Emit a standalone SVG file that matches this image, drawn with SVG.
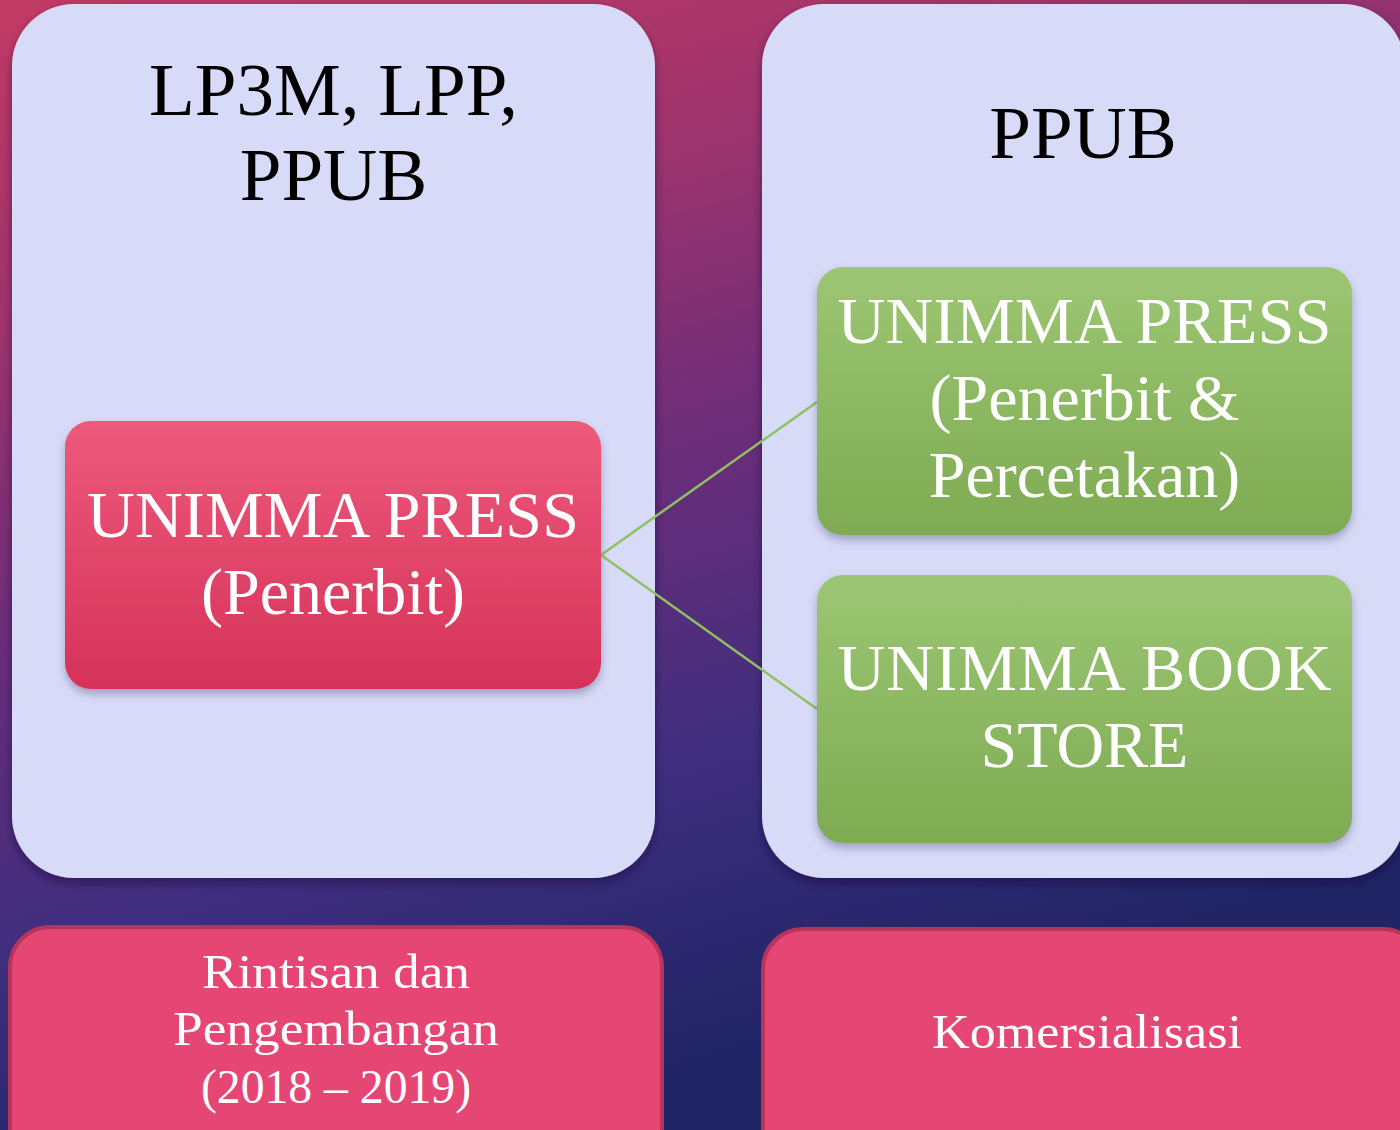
<svg xmlns="http://www.w3.org/2000/svg" width="1400" height="1130" viewBox="0 0 1400 1130">
<defs>
<linearGradient id="bg" x1="0" y1="0" x2="0.35" y2="1">
<stop offset="0" stop-color="#c23a64"/>
<stop offset="0.25" stop-color="#a0346c"/>
<stop offset="0.5" stop-color="#6c2d79"/>
<stop offset="0.75" stop-color="#3f2e7e"/>
<stop offset="1" stop-color="#1f2465"/>
</linearGradient>
<linearGradient id="red" x1="0" y1="0" x2="0" y2="1">
<stop offset="0" stop-color="#ed5a7b"/>
<stop offset="1" stop-color="#d63259"/>
</linearGradient>
<linearGradient id="green" x1="0" y1="0" x2="0" y2="1">
<stop offset="0" stop-color="#9cc673"/>
<stop offset="1" stop-color="#7eab52"/>
</linearGradient>
<filter id="sh" x="-10%" y="-10%" width="120%" height="125%">
<feDropShadow dx="0" dy="5" stdDeviation="5" flood-color="#1a1030" flood-opacity="0.45"/>
</filter>
<filter id="nsh" x="-10%" y="-10%" width="120%" height="130%">
<feDropShadow dx="0" dy="5" stdDeviation="4" flood-color="#5a5a80" flood-opacity="0.45"/>
</filter>
</defs>
<style>
.big{fill:#d7dbf7}
.hdr{font-family:"Liberation Serif","Times New Roman",serif;font-size:75px;fill:#000;text-anchor:middle}
.nt{font-family:"Liberation Serif","Times New Roman",serif;font-size:66px;fill:#fff;text-anchor:middle}
.bt{font-family:"Liberation Serif","Times New Roman",serif;font-size:48px;fill:#fff;text-anchor:middle}
.bot{fill:#e64673;stroke:#b8345c;stroke-width:4}
.conn{stroke:#8fc063;stroke-width:2.5;fill:none}
</style>
<rect x="0" y="0" width="1400" height="1130" fill="url(#bg)"/>

<g id="left-panel">
<rect class="big" x="12" y="4" width="643" height="874" rx="62" filter="url(#sh)"/>
<text class="hdr" x="333.5" y="115">LP3M, LPP,</text>
<text class="hdr" x="333.5" y="200">PPUB</text>
</g>

<g id="right-panel">
<rect class="big" x="762" y="4" width="643" height="874" rx="62" filter="url(#sh)"/>
<text class="hdr" x="1083" y="158">PPUB</text>
</g>

<g id="connectors">
<line class="conn" x1="601" y1="555" x2="817" y2="402"/>
<line class="conn" x1="601" y1="555" x2="817" y2="709"/>
</g>

<g id="node-unimma-press">
<rect x="65" y="421" width="536" height="268" rx="26" fill="url(#red)" filter="url(#nsh)"/>
<text class="nt" x="333" y="537" textLength="492">UNIMMA PRESS</text>
<text class="nt" x="333" y="614">(Penerbit)</text>
</g>

<g id="node-unimma-press-percetakan">
<rect x="817" y="267" width="535" height="268" rx="26" fill="url(#green)" filter="url(#nsh)"/>
<text class="nt" x="1084.5" y="343" textLength="494">UNIMMA PRESS</text>
<text class="nt" x="1084.5" y="420">(Penerbit &amp;</text>
<text class="nt" x="1084.5" y="497">Percetakan)</text>
</g>

<g id="node-unimma-book-store">
<rect x="817" y="575" width="535" height="268" rx="26" fill="url(#green)" filter="url(#nsh)"/>
<text class="nt" x="1084.5" y="690" textLength="494">UNIMMA BOOK</text>
<text class="nt" x="1084.5" y="767">STORE</text>
</g>

<g id="node-rintisan">
<rect class="bot" x="10" y="927" width="652" height="240" rx="40"/>
<text class="bt" x="336" y="988" textLength="268" lengthAdjust="spacingAndGlyphs">Rintisan dan</text>
<text class="bt" x="336" y="1045" textLength="326" lengthAdjust="spacingAndGlyphs">Pengembangan</text>
<text class="bt" x="336" y="1103" textLength="270" lengthAdjust="spacingAndGlyphs">(2018 – 2019)</text>
</g>

<g id="node-komersialisasi">
<rect class="bot" x="763" y="929" width="660" height="240" rx="40"/>
<text class="bt" x="1087" y="1048" textLength="310" lengthAdjust="spacingAndGlyphs">Komersialisasi</text>
</g>
</svg>
